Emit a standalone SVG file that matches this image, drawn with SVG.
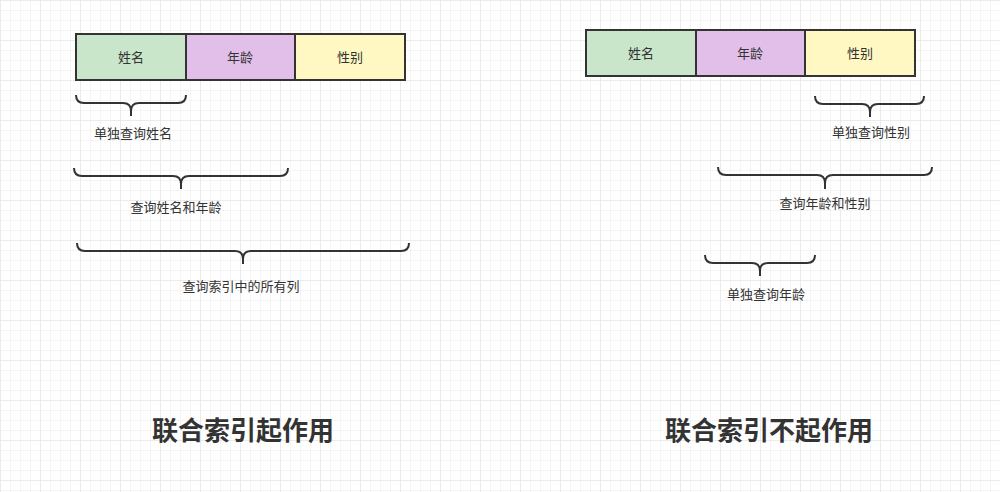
<svg xmlns="http://www.w3.org/2000/svg" width="1000" height="492" viewBox="0 0 1000 492">
<defs>
<pattern id="g" width="10" height="10" patternUnits="userSpaceOnUse"><path d="M10 0H0V10" fill="none" stroke="#ebebeb" stroke-width="1"/></pattern>
<pattern id="G" width="40" height="40" patternUnits="userSpaceOnUse"><rect width="40" height="40" fill="url(#g)"/><path d="M40 0H0V40" fill="none" stroke="#e0e0e0" stroke-width="1"/></pattern>
</defs>
<style>
.c{stroke:#333;stroke-width:2}
.t{font-family:"Noto Sans CJK SC",sans-serif;font-size:13px;fill:#333;text-anchor:middle}
.b{fill:none;stroke:#333;stroke-width:2}
.h{font-family:"Noto Sans CJK SC",sans-serif;font-size:26px;font-weight:bold;fill:#333;text-anchor:middle}
</style>
<rect width="1000" height="492" fill="#fff"/>
<rect width="1000" height="492" fill="url(#G)"/>
<g id="left-name"><rect class="c" x="76" y="34" width="110" height="46" fill="#c9e6cb"/><text class="t" x="131" y="62">姓名</text></g>
<g id="left-age"><rect class="c" x="186" y="34" width="109" height="46" fill="#e1bfe8"/><text class="t" x="240" y="62">年龄</text></g>
<g id="left-sex"><rect class="c" x="295" y="34" width="110" height="46" fill="#fff8c2"/><text class="t" x="350" y="62">性别</text></g>
<g id="right-name"><rect class="c" x="586" y="30" width="110" height="46" fill="#c9e6cb"/><text class="t" x="641" y="58">姓名</text></g>
<g id="right-age"><rect class="c" x="696" y="30" width="109" height="46" fill="#e1bfe8"/><text class="t" x="750" y="58">年龄</text></g>
<g id="right-sex"><rect class="c" x="805" y="30" width="110" height="46" fill="#fff8c2"/><text class="t" x="860" y="58">性别</text></g>
<g id="braces">
<path class="b" d="M76 95q0 8 8 8H123q8 0 8 8v5v-5q0-8 8-8H178q8 0 8-8"/>
<path class="b" d="M74 168q0 8 8 8H173q8 0 8 8v5v-5q0-8 8-8H280q8 0 8-8"/>
<path class="b" d="M77 243q0 8 8 8H235q8 0 8 8v5v-5q0-8 8-8H401q8 0 8-8"/>
<path class="b" d="M815 96q0 8 8 8H862q8 0 8 8v5v-5q0-8 8-8H916q8 0 8-8"/>
<path class="b" d="M718 167q0 8 8 8H817q8 0 8 8v6v-6q0-8 8-8H924q8 0 8-8"/>
<path class="b" d="M705 255q0 8 8 8H752q8 0 8 8v5v-5q0-8 8-8H807q8 0 8-8"/>
</g>
<text class="t" x="133" y="138">单独查询姓名</text>
<text class="t" x="176" y="212">查询姓名和年龄</text>
<text class="t" x="241" y="291">查询索引中的所有列</text>
<text class="t" x="871" y="137">单独查询性别</text>
<text class="t" x="825" y="208">查询年龄和性别</text>
<text class="t" x="766" y="299">单独查询年龄</text>
<text class="h" x="243" y="440">联合索引起作用</text>
<text class="h" x="769" y="440">联合索引不起作用</text>
</svg>
